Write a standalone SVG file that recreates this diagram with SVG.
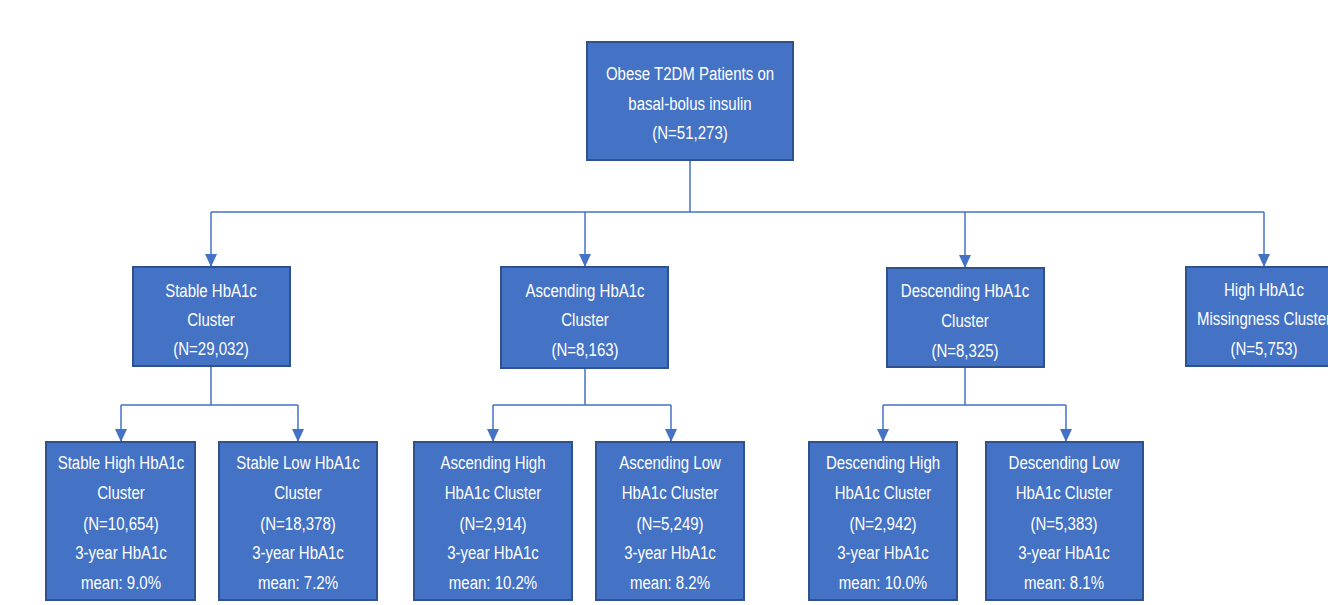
<svg xmlns="http://www.w3.org/2000/svg" width="1328" height="605" viewBox="0 0 1328 605">
<style>
.box{fill:#4472C4;stroke:#2F528F;stroke-width:2}
.t{font-family:"Liberation Sans",Arial,sans-serif;font-size:19px;fill:#FFFFFF;text-anchor:middle}
.c{fill:none;stroke:#4472C4;stroke-width:1.5}
</style>
<defs>
<marker id="ah" markerUnits="userSpaceOnUse" markerWidth="12" markerHeight="14" refX="6" refY="13" orient="0" viewBox="0 0 12 14">
<path d="M0,0 L12,0 L6,13 Z" fill="#4472C4"/>
</marker>
</defs>
<rect width="1328" height="605" fill="#FFFFFF"/>
<g id="connectors">
<path class="c" d="M690,160 V212"/>
<path class="c" d="M211,212 H1264"/>
<path class="c" d="M211,212 V267" marker-end="url(#ah)"/>
<path class="c" d="M585,212 V267" marker-end="url(#ah)"/>
<path class="c" d="M965,212 V268" marker-end="url(#ah)"/>
<path class="c" d="M1264,212 V267" marker-end="url(#ah)"/>
<path class="c" d="M211,366 V405 M121,405 H298"/>
<path class="c" d="M121,405 V442" marker-end="url(#ah)"/>
<path class="c" d="M298,405 V442" marker-end="url(#ah)"/>
<path class="c" d="M585,368 V405 M493,405 H671"/>
<path class="c" d="M493,405 V442" marker-end="url(#ah)"/>
<path class="c" d="M671,405 V442" marker-end="url(#ah)"/>
<path class="c" d="M965,367 V405 M883,405 H1066"/>
<path class="c" d="M883,405 V442" marker-end="url(#ah)"/>
<path class="c" d="M1066,405 V442" marker-end="url(#ah)"/>
</g>
<g id="root">
<rect class="box" x="587" y="42" width="206" height="118"/>
<g transform="translate(690 0) scale(0.79 1)">
<text class="t" x="0" y="80">Obese T2DM Patients on</text>
<text class="t" x="0" y="110">basal-bolus insulin</text>
<text class="t" x="0" y="139">(N=51,273)</text>
</g>
</g>
<g id="stable">
<rect class="box" x="133" y="267" width="157" height="99"/>
<g transform="translate(211 0) scale(0.79 1)">
<text class="t" x="0" y="297">Stable HbA1c</text>
<text class="t" x="0" y="326">Cluster</text>
<text class="t" x="0" y="355">(N=29,032)</text>
</g>
</g>
<g id="ascending">
<rect class="box" x="501" y="267" width="167" height="101"/>
<g transform="translate(585 0) scale(0.79 1)">
<text class="t" x="0" y="297">Ascending HbA1c</text>
<text class="t" x="0" y="326">Cluster</text>
<text class="t" x="0" y="356">(N=8,163)</text>
</g>
</g>
<g id="descending">
<rect class="box" x="887" y="268" width="157" height="99"/>
<g transform="translate(965 0) scale(0.79 1)">
<text class="t" x="0" y="297">Descending HbA1c</text>
<text class="t" x="0" y="327">Cluster</text>
<text class="t" x="0" y="357">(N=8,325)</text>
</g>
</g>
<g id="missing">
<rect class="box" x="1186" y="267" width="156" height="99"/>
<g transform="translate(1264 0) scale(0.79 1)">
<text class="t" x="0" y="296">High HbA1c</text>
<text class="t" x="0" y="325">Missingness Cluster</text>
<text class="t" x="0" y="355">(N=5,753)</text>
</g>
</g>
<g id="stable-high">
<rect class="box" x="46" y="442" width="149" height="158"/>
<g transform="translate(121 0) scale(0.79 1)">
<text class="t" x="0" y="469">Stable High HbA1c</text>
<text class="t" x="0" y="499">Cluster</text>
<text class="t" x="0" y="530">(N=10,654)</text>
<text class="t" x="0" y="559">3-year HbA1c</text>
<text class="t" x="0" y="589">mean: 9.0%</text>
</g>
</g>
<g id="stable-low">
<rect class="box" x="219" y="442" width="158" height="158"/>
<g transform="translate(298 0) scale(0.79 1)">
<text class="t" x="0" y="469">Stable Low HbA1c</text>
<text class="t" x="0" y="499">Cluster</text>
<text class="t" x="0" y="530">(N=18,378)</text>
<text class="t" x="0" y="559">3-year HbA1c</text>
<text class="t" x="0" y="589">mean: 7.2%</text>
</g>
</g>
<g id="ascending-high">
<rect class="box" x="414" y="442" width="158" height="158"/>
<g transform="translate(493 0) scale(0.79 1)">
<text class="t" x="0" y="469">Ascending High</text>
<text class="t" x="0" y="499">HbA1c Cluster</text>
<text class="t" x="0" y="530">(N=2,914)</text>
<text class="t" x="0" y="559">3-year HbA1c</text>
<text class="t" x="0" y="589">mean: 10.2%</text>
</g>
</g>
<g id="ascending-low">
<rect class="box" x="596" y="442" width="148" height="158"/>
<g transform="translate(670 0) scale(0.79 1)">
<text class="t" x="0" y="469">Ascending Low</text>
<text class="t" x="0" y="499">HbA1c Cluster</text>
<text class="t" x="0" y="530">(N=5,249)</text>
<text class="t" x="0" y="559">3-year HbA1c</text>
<text class="t" x="0" y="589">mean: 8.2%</text>
</g>
</g>
<g id="descending-high">
<rect class="box" x="809" y="442" width="148" height="158"/>
<g transform="translate(883 0) scale(0.79 1)">
<text class="t" x="0" y="469">Descending High</text>
<text class="t" x="0" y="499">HbA1c Cluster</text>
<text class="t" x="0" y="530">(N=2,942)</text>
<text class="t" x="0" y="559">3-year HbA1c</text>
<text class="t" x="0" y="589">mean: 10.0%</text>
</g>
</g>
<g id="descending-low">
<rect class="box" x="986" y="442" width="157" height="158"/>
<g transform="translate(1064 0) scale(0.79 1)">
<text class="t" x="0" y="469">Descending Low</text>
<text class="t" x="0" y="499">HbA1c Cluster</text>
<text class="t" x="0" y="530">(N=5,383)</text>
<text class="t" x="0" y="559">3-year HbA1c</text>
<text class="t" x="0" y="589">mean: 8.1%</text>
</g>
</g>
</svg>
